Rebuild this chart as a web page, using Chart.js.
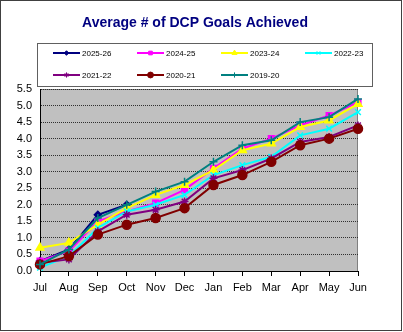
<!DOCTYPE html>
<html>
<head>
<meta charset="utf-8">
<script src="https://cdn.jsdelivr.net/npm/chart.js@4.4.0/dist/chart.umd.min.js"></script>
<style>
  html, body { margin: 0; padding: 0; background: #fff; }
  #wrap { width: 403px; height: 332px; }
</style>
</head>
<body>
<div id="wrap"><canvas id="myChart" width="403" height="332"></canvas></div>
<script>
"use strict";

const months = ["Jul", "Aug", "Sep", "Oct", "Nov", "Dec", "Jan", "Feb", "Mar", "Apr", "May", "Jun"];
const seasons = ["2025-26", "2024-25", "2023-24", "2022-23", "2021-22", "2020-21", "2019-20"];

const s2526 = [0.3, 0.65, 1.7, 2.0, null, null, null, null, null, null, null, null];
const s2425 = [0.3, 0.6, 1.5, 1.8, 2.05, 2.45, 3.1, 3.7, 4.0, 4.4, 4.7, 5.1];
const s2324 = [0.7, 0.85, 1.4, 1.9, 2.3, 2.6, 3.05, 3.65, 3.85, 4.35, 4.55, 5.05];
const s2223 = [0.1, 0.45, 1.3, 1.8, 2.0, 2.3, 2.9, 3.2, 3.45, 4.1, 4.3, 4.8];
const s2122 = [0.25, 0.35, 1.2, 1.7, 1.85, 2.1, 2.8, 3.05, 3.4, 3.9, 4.05, 4.4];
const s2021 = [0.2, 0.45, 1.1, 1.4, 1.6, 1.9, 2.6, 2.9, 3.3, 3.8, 4.0, 4.3];
const s1920 = [0.2, 0.65, 1.6, 2.0, 2.4, 2.7, 3.3, 3.8, 3.95, 4.5, 4.65, 5.2];

const seriesData = [s2526, s2425, s2324, s2223, s2122, s2021, s1920];
const lineColors = ["#000080", "#FF00FF", "#FFFF00", "#00FFFF", "#800080", "#800000", "#008080"];
const markers = ["rectRot", "rect", "triangle", "crossRot", "star", "circle", "cross"];
const markerSizes = [3.5, 4, 4.5, 4, 4, 4.5, 4];

const FONT = "'Liberation Sans', Arial, sans-serif";

// grey plot area + outer frame + title + boxed legend
const frame = {
  id: "frame",
  beforeDraw(chart) {
    const { ctx, chartArea: a } = chart;
    ctx.save();
    ctx.fillStyle = "#fff";
    ctx.fillRect(0, 0, chart.width, chart.height);
    ctx.fillStyle = "#C0C0C0";
    ctx.fillRect(a.left, a.top, a.right - a.left, a.bottom - a.top);
    ctx.strokeStyle = "#808080";
    ctx.lineWidth = 1;
    ctx.strokeRect(a.left + 0.5, a.top + 0.5, a.right - a.left - 1, a.bottom - a.top);
    ctx.restore();
  },
  afterDraw(chart) {
    const ctx = chart.ctx;
    ctx.save();
    ctx.strokeStyle = "#404040";
    ctx.lineWidth = 1;
    ctx.strokeRect(0.5, 0.5, chart.width - 2, chart.height - 2);

    ctx.fillStyle = "#000080";
    ctx.font = "bold 14px " + FONT;
    ctx.textAlign = "center";
    ctx.textBaseline = "middle";
    ctx.fillText("Average # of DCP Goals Achieved", 195, 23);

    // legend box
    ctx.fillStyle = "#fff";
    ctx.fillRect(37, 43, 335, 44);
    ctx.strokeStyle = "#606060";
    ctx.strokeRect(37.5, 43.5, 335, 43);

    ctx.font = "8px " + FONT;
    ctx.textAlign = "left";
    chart.data.datasets.forEach((ds, i) => {
      const col = i % 4;
      const row = Math.floor(i / 4);
      const x = 53 + col * 84;
      const y = 53 + row * 22;
      ctx.strokeStyle = ds.borderColor;
      ctx.lineWidth = 2;
      ctx.beginPath();
      ctx.moveTo(x, y);
      ctx.lineTo(x + 27, y);
      ctx.stroke();
      if (Chart.helpers && Chart.helpers.drawPoint) {
        ctx.fillStyle = ds.pointBackgroundColor;
        ctx.strokeStyle = ds.pointBorderColor;
        ctx.lineWidth = 1;
        Chart.helpers.drawPoint(ctx, {
          pointStyle: ds.pointStyle,
          radius: ds.pointRadius * 0.65,
          rotation: 0,
          borderWidth: 1
        }, x + 13.5, y);
      }
      ctx.fillStyle = "#000";
      ctx.fillText(ds.label, x + 29, y + 0.5);
    });
    ctx.restore();
  }
};

const datasets = seasons.map((name, i) => ({
  label: name,
  data: seriesData[i],
  borderColor: lineColors[i],
  backgroundColor: lineColors[i],
  pointBackgroundColor: lineColors[i],
  pointBorderColor: lineColors[i],
  pointStyle: markers[i],
  pointRadius: markerSizes[i],
  pointBorderWidth: 1.5,
  borderWidth: 2,
  tension: 0,
  spanGaps: false,
  order: seasons.length - i
}));

const myChart = new Chart("myChart", {
  type: "line",
  data: { labels: months, datasets: datasets },
  options: {
    responsive: false,
    animation: false,
    layout: { padding: { top: 89, right: 45, bottom: 0, left: 0 } },
    plugins: {
      legend: { display: false },
      title: { display: false },
      tooltip: { enabled: false }
    },
    scales: {
      x: {
        offset: false,
        afterFit: (scale) => { scale.height = 61; },
        grid: {
          drawOnChartArea: false,
          drawTicks: true,
          tickLength: 5,
          color: "#000"
        },
        border: { color: "#000", width: 1 },
        ticks: {
          padding: 5,
          color: "#000",
          maxRotation: 0,
          autoSkip: false,
          font: { family: FONT, size: 11 }
        }
      },
      y: {
        min: 0,
        max: 5.5,
        afterFit: (scale) => { scale.width = 40; },
        grid: {
          drawTicks: false,
          color: "#303030",
          lineWidth: 1
        },
        border: { color: "#000", width: 1, dash: [1, 1] },
        ticks: {
          stepSize: 0.5,
          padding: 8,
          color: "#000",
          font: { family: FONT, size: 11 },
          callback: (v) => v.toFixed(1)
        }
      }
    }
  },
  plugins: [frame]
});
</script>
</body>
</html>
